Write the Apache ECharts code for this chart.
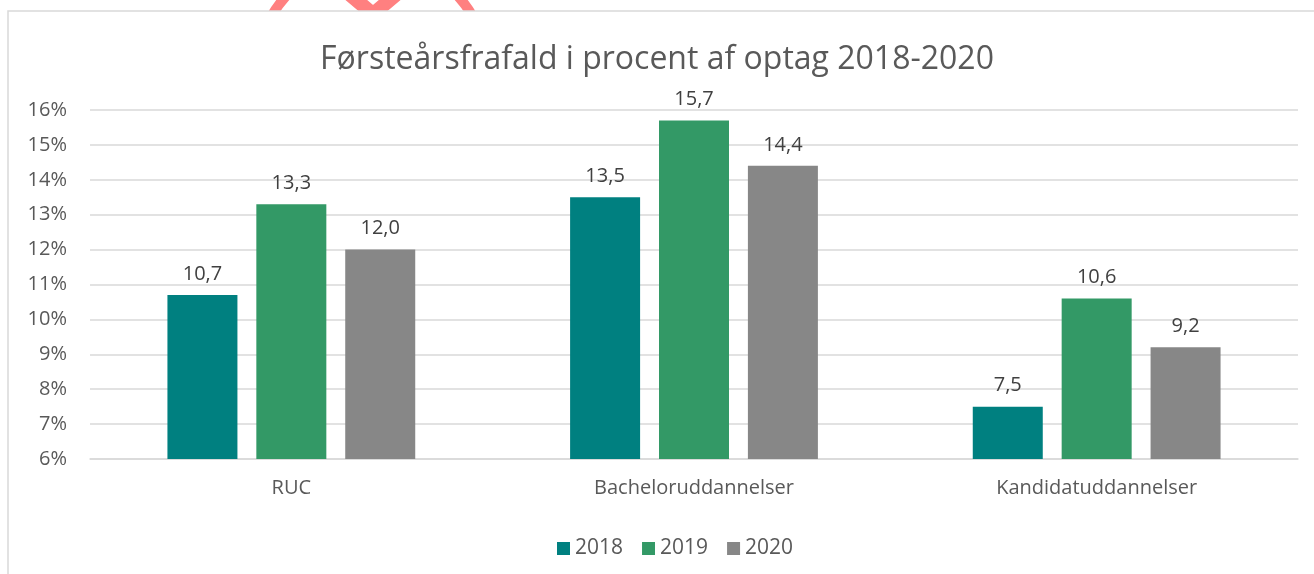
<!DOCTYPE html>
<html>
<head>
<meta charset="utf-8">
<script src="https://cdn.jsdelivr.net/npm/echarts@6/dist/echarts.min.js"></script>
<style>
  html, body { margin: 0; padding: 0; background: #fff; }
  #chart { width: 1314px; height: 574px; }
</style>
</head>
<body>
<div id="chart"></div>
<script>
const categories = ["RUC", "Bacheloruddannelser", "Kandidatuddannelser"];
const years = ["2018", "2019", "2020"];
const values2018 = [10.7, 13.5, 7.5];
const values2019 = [13.3, 15.7, 10.6];
const values2020 = [12.0, 14.4, 9.2];
const colors = ["#008080", "#339966", "#878787"];

const font = "'Open Sans', sans-serif";
const chart = echarts.init(document.getElementById("chart"));

const makeSeries = (name, data, color) => ({
  name: name,
  type: "bar",
  data: data,
  barWidth: 70,
  barGap: "27%",
  itemStyle: { color: color },
  label: {
    show: true,
    position: "top",
    distance: 11,
    color: "#404040",
    fontSize: 20,
    fontFamily: font,
    formatter: (p) => p.value.toFixed(1).replace(".", ","),
  },
});

const option = {
  animation: false,
  backgroundColor: "#fff",
  graphic: [
    // partly hidden logo behind the chart frame
    {
      type: "circle",
      shape: { cx: 372, cy: 74, r: 116 },
      style: { fill: "none", stroke: "#ff8080", lineWidth: 10 },
      z: -20,
    },
    {
      type: "polyline",
      shape: { points: [[342, -12], [373, 14], [404, -12]] },
      style: { fill: "none", stroke: "#ff8080", lineWidth: 14 },
      z: -20,
    },
    {
      type: "rect",
      shape: { x: 8, y: 11, width: 1330, height: 620 },
      style: { fill: "#fff", stroke: "#d9d9d9", lineWidth: 1.5 },
      z: -10,
    },
  ],
  title: {
    text: "Førsteårsfrafald i procent af optag 2018-2020",
    left: "center",
    top: 39,
    textStyle: {
      color: "#595959",
      fontSize: 32,
      fontWeight: "normal",
      fontFamily: font,
    },
  },
  legend: {
    data: years,
    left: 552,
    top: 533,
    itemWidth: 13,
    itemHeight: 13,
    itemGap: 19,
    icon: "rect",
    textStyle: { color: "#595959", fontSize: 21, fontFamily: font },
  },
  grid: {
    left: 90,
    right: 16,
    top: 110,
    bottom: 115,
  },
  xAxis: {
    type: "category",
    data: categories,
    axisLine: { lineStyle: { color: "#d9d9d9", width: 1.5 } },
    axisTick: { show: false },
    axisLabel: {
      color: "#595959",
      fontSize: 20,
      fontFamily: font,
      margin: 19,
    },
  },
  yAxis: {
    type: "value",
    min: 6,
    max: 16,
    interval: 1,
    axisLine: { show: false },
    axisTick: { show: false },
    splitLine: { lineStyle: { color: "#d9d9d9", width: 1.5 } },
    axisLabel: {
      color: "#595959",
      fontSize: 20,
      fontFamily: font,
      margin: 23,
      formatter: "{value}%",
    },
  },
  series: [
    makeSeries(years[0], values2018, colors[0]),
    makeSeries(years[1], values2019, colors[1]),
    makeSeries(years[2], values2020, colors[2]),
  ],
};

chart.setOption(option);
</script>
</body>
</html>
